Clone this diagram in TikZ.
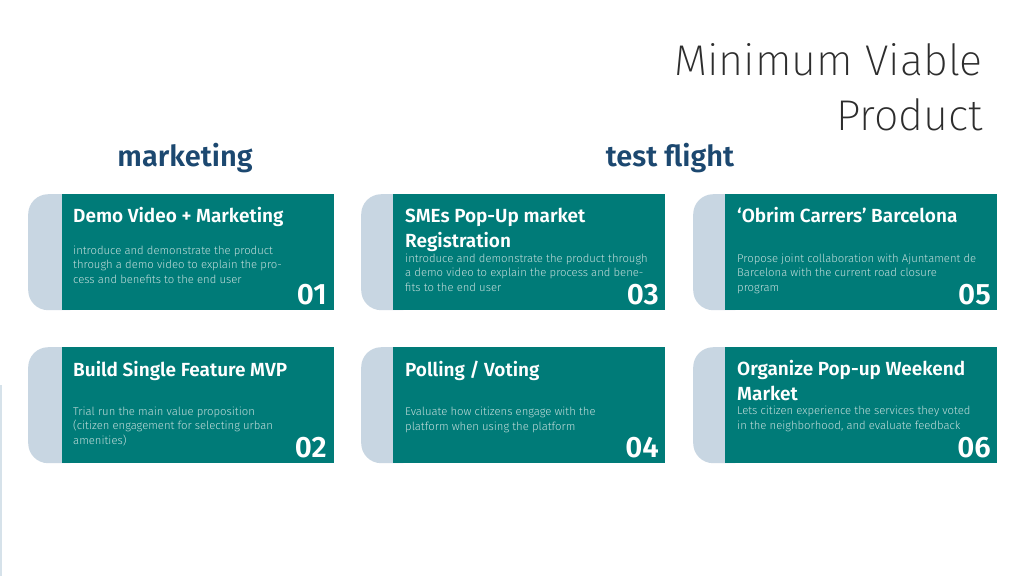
\documentclass[tikz,border=0pt]{standalone}
\usepackage{fontspec}
\setmainfont{Fira Sans}
\IfFontExistsTF{Fira Sans ExtraLight}{\newfontfamily\thinfont{Fira Sans ExtraLight}}
  {\IfFontExistsTF{Fira Sans Light}{\newfontfamily\thinfont{Fira Sans Light}}
  {\IfFontExistsTF{Lato Light}{\newfontfamily\thinfont{Lato Light}}{\newfontfamily\thinfont{Fira Sans}}}}
\IfFontExistsTF{Fira Sans Light}{\newfontfamily\lightfont{Fira Sans Light}}
  {\IfFontExistsTF{Lato Light}{\newfontfamily\lightfont{Lato Light}}{\newfontfamily\lightfont{Fira Sans}}}
\IfFontExistsTF{Fira Sans SemiBold}{\newfontfamily\semifont{Fira Sans SemiBold}}
  {\newfontfamily\semifont{Fira Sans}[UprightFont=*,UprightFeatures={FakeBold=1.5}]}
\definecolor{cardteal}{RGB}{0,123,120}
\definecolor{tabblue}{RGB}{200,214,226}
\definecolor{headblue}{RGB}{28,72,112}
\definecolor{bodytxt}{RGB}{196,222,220}
\definecolor{titlegray}{RGB}{45,45,45}
\definecolor{edgeblue}{RGB}{214,226,234}
\begin{document}
\begin{tikzpicture}
		[x=1pt,y=-1pt,
		tabbox/.style={fill=tabblue,rounded corners=20pt,inner sep=0pt,minimum width=60pt,minimum height=116pt,anchor=north west},
		cardbox/.style={fill=cardteal,inner sep=0pt,minimum width=272pt,minimum height=116pt,anchor=north west},
		cardtitle/.style={anchor=base west,inner sep=0pt,align=left,text=white,font=\semifont\fontsize{19}{25}\selectfont},
		cardbody/.style={anchor=base west,inner sep=0pt,align=left,text=bodytxt,font=\lightfont\fontsize{11.3}{14.5}\selectfont},
		cardnum/.style={anchor=base east,inner sep=0pt,text=white,font=\semifont\fontsize{29.5}{29.5}\selectfont},
		heading/.style={anchor=base,inner sep=0pt,text=headblue,font=\semifont\fontsize{29}{29}\selectfont}
		]
		\useasboundingbox[fill=white] (0,0) rectangle (1024,576);
		\draw[edgeblue,line width=1.2pt] (1,385) -- (1,576);

		% title (base = last line)
		\node[anchor=base east,inner sep=0pt,align=right,text=titlegray,font=\thinfont\fontsize{43}{55}\selectfont] (title) at (983,130) {Minimum Viable\\Product};
		\node[heading] (mkt) at (185,166) {marketing};
		\node[heading] (flight) at (670,166) {test flight};

		% cards, top row
		\node[tabbox] (tab1) at (28,194) {};
		\node[cardbox] (box1) at (62,194) {};
		\node[tabbox] (tab3) at (361,194) {};
		\node[cardbox] (box3) at (393,194) {};
		\node[tabbox] (tab5) at (693,194) {};
		\node[cardbox] (box5) at (725,194) {};

		% cards, bottom row
		\node[tabbox] (tab2) at (28,347) {};
		\node[cardbox] (box2) at (62,347) {};
		\node[tabbox] (tab4) at (361,347) {};
		\node[cardbox] (box4) at (393,347) {};
		\node[tabbox] (tab6) at (693,347) {};
		\node[cardbox] (box6) at (725,347) {};

\node[cardtitle] (head1) at (73,222) {Demo Video + Marketing};
\node[cardbody] (text1) at (73,283) {introduce and demonstrate the product\\through a demo video to explain the pro-\\cess and benefits to the end user};
\node[cardnum] (num1) at (327,304) {01};

\node[cardtitle] (head3) at (405,247) {SMEs Pop-Up market\\Registration};
\node[cardbody] (text3) at (405,291) {introduce and demonstrate the product through\\a demo video to explain the process and bene-\\fits to the end user};
\node[cardnum] (num3) at (659,304) {03};

\node[cardtitle] (head5) at (737,222) {‘Obrim Carrers’ Barcelona};
\node[cardbody] (text5) at (737,291) {Propose joint collaboration with Ajuntament de\\Barcelona with the current road closure\\program};
\node[cardnum] (num5) at (991,304) {05};

\node[cardtitle] (head2) at (73,376) {Build Single Feature MVP};
\node[cardbody] (text2) at (73,444) {Trial run the main value proposition\\(citizen engagement for selecting urban\\amenities)};
\node[cardnum] (num2) at (327,457) {02};

\node[cardtitle] (head4) at (405,376) {Polling / Voting};
\node[cardbody] (text4) at (405,430) {Evaluate how citizens engage with the\\platform when using the platform};
\node[cardnum] (num4) at (659,457) {04};

\node[cardtitle] (head6) at (737,400) {Organize Pop-up Weekend\\Market};
\node[cardbody] (text6) at (737,429) {Lets citizen experience the services they voted\\in the neighborhood, and evaluate feedback};
\node[cardnum] (num6) at (991,457) {06};
	\end{tikzpicture}
\end{document}
